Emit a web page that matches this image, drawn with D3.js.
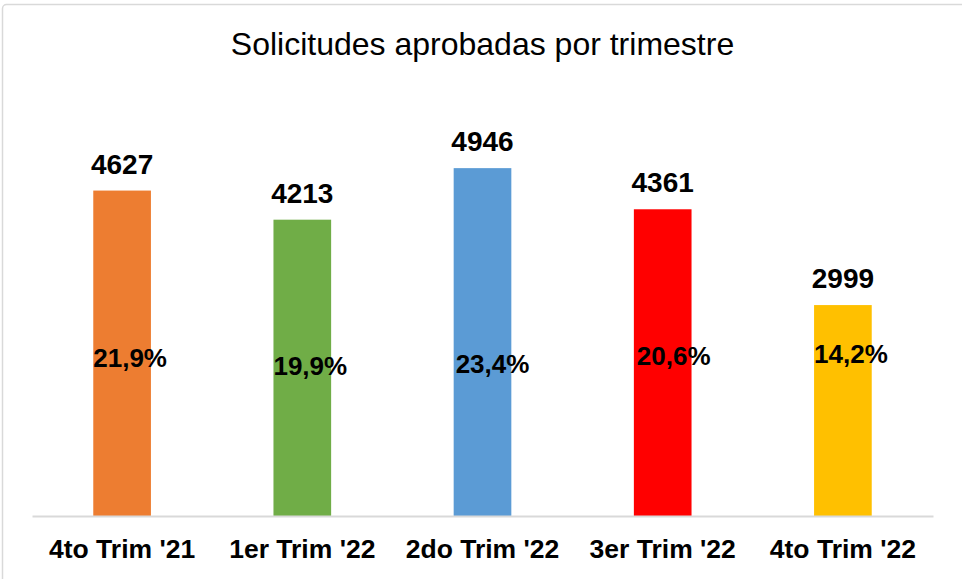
<!DOCTYPE html>
<html>
<head>
<meta charset="utf-8">
<script src="https://cdn.jsdelivr.net/npm/d3@7"></script>
<style>
body{margin:0;background:#fff;}
text{font-family:"Liberation Sans",Arial,sans-serif;}
</style>
</head>
<body>
<div class="bod"></div>
<script>
//data
var categories = ["4to Trim '21","1er Trim '22","2do Trim '22","3er Trim '22","4to Trim '22"]
var values = [4627,4213,4946,4361,2999]
var percents = ["21,9%","19,9%","23,4%","20,6%","14,2%"]
var colors = ['#ED7D31','#70AD47','#5B9BD5','#FF0000','#FFC000']
var title = 'Solicitudes aprobadas por trimestre'

//layout
var size = {width:962,height:579,left:32,right:933,base:516,top:94}
//hand placed percent labels (x nudge, baseline)
var pctNudge = [[0,367],[0,375],[2,373],[3,365],[0,363]]

const svg = d3.select('.bod')
  .append('svg')
  .attr('width',size.width)
  .attr('height',size.height)

//chart border
svg.append('rect')
  .attr('x',2.5).attr('y',4.5)
  .attr('width',1000).attr('height',640)
  .attr('rx',4)
  .attr('fill','#fff')
  .attr('stroke','#d9d9d9')
  .attr('stroke-width',1.5)

svg.append('text')
  .attr('x',482.5)
  .attr('y',55)
  .attr('text-anchor','middle')
  .attr('font-size',32)
  .attr('fill','#000')
  .text(title)

let x = d3.scaleBand()
  .domain(categories)
  .range([size.left,size.right])
  .paddingInner(0.68)
  .paddingOuter(0.34)

let y = d3.scaleLinear()
  .domain([0,6000])
  .range([size.base,size.top])

//bars
svg.selectAll('.bar')
  .data(values)
  .enter()
  .append('rect')
  .classed('bar',true)
  .attr('x',(d,i)=>x(categories[i]))
  .attr('y',d=>y(d))
  .attr('width',x.bandwidth())
  .attr('height',d=>y(0)-y(d))
  .attr('fill',(d,i)=>colors[i])

//axis
let axis = svg.append('g')
  .attr('transform',`translate(0,${size.base})`)
  .call(d3.axisBottom(x).tickSize(0).tickSizeOuter(0).tickPadding(42))
axis.select('.domain').attr('stroke','#d9d9d9').attr('stroke-width',2)
axis.selectAll('text')
  .attr('font-size',26.5)
  .attr('font-weight','bold')
  .attr('fill','#000')
  .attr('font-family','"Liberation Sans",Arial,sans-serif')
  .attr('dy',0)

//value labels
svg.selectAll('.val')
  .data(values)
  .enter()
  .append('text')
  .classed('val',true)
  .attr('x',(d,i)=>x(categories[i])+x.bandwidth()/2)
  .attr('y',d=>y(d)-17)
  .attr('text-anchor','middle')
  .attr('font-size',28)
  .attr('font-weight','bold')
  .text(d=>d)

//percent labels
svg.selectAll('.pct')
  .data(percents)
  .enter()
  .append('text')
  .classed('pct',true)
  .attr('x',(d,i)=>x(categories[i])+pctNudge[i][0])
  .attr('y',(d,i)=>pctNudge[i][1])
  .attr('font-size',26)
  .attr('font-weight','bold')
  .text(d=>d)
</script>
</body>
</html>
